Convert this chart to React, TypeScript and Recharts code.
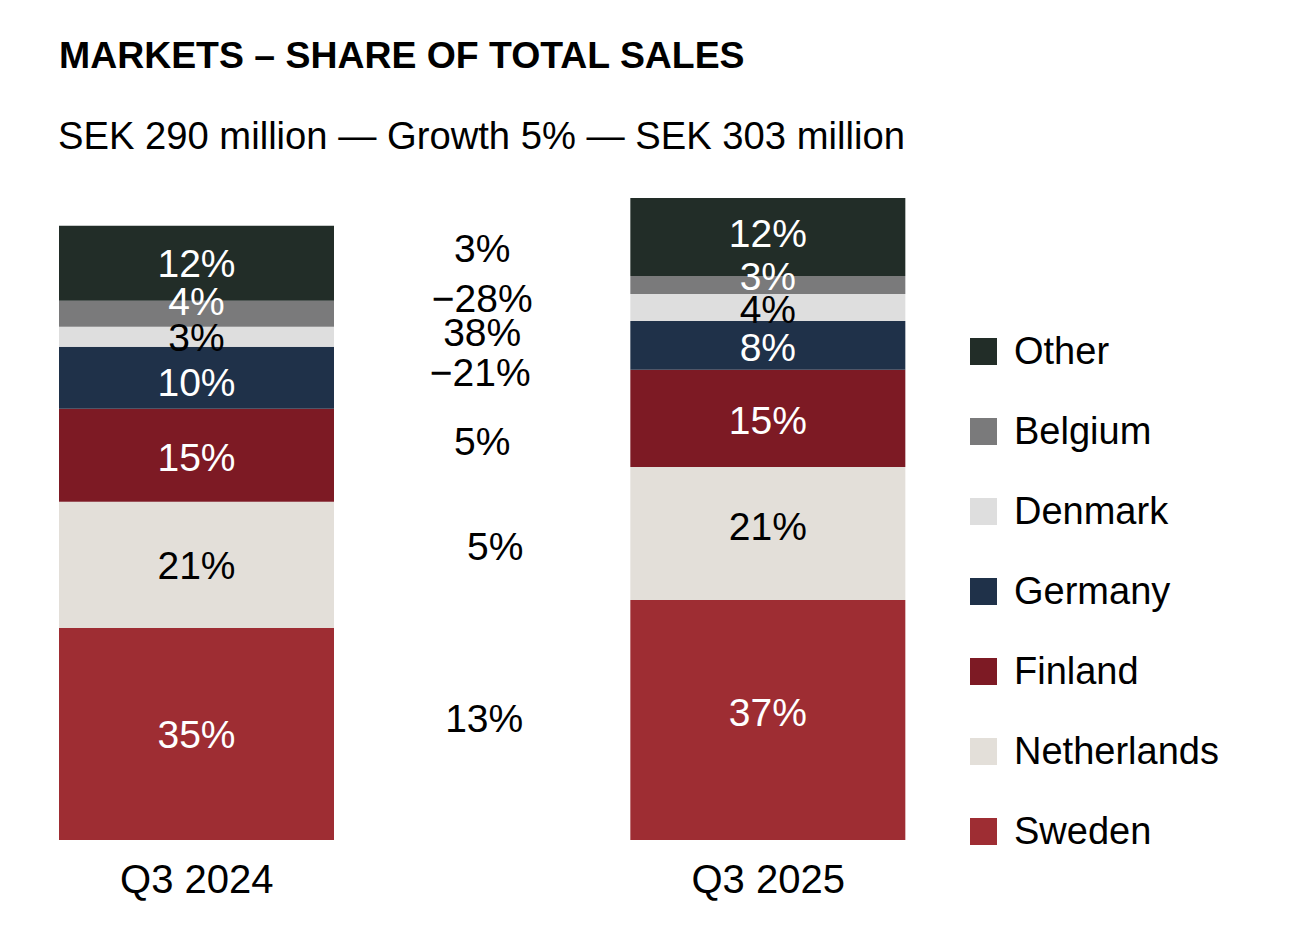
import { BarChart, Bar, XAxis, YAxis, Cell, Legend, LabelList } from "recharts";

// sales by market, SEK million (bottom of the stack first)
const markets = ["Sweden", "Netherlands", "Finland", "Germany", "Denmark", "Belgium", "Other"];
const periods = ["Q3 2024", "Q3 2025"];
const sales2024 = [100.1, 59.5, 43.9, 29.3, 9.4, 12.3, 35.4];
const sales2025 = [113.3, 62.8, 45.8, 23.1, 12.7, 8.5, 36.8];
const share2024 = ["35%", "21%", "15%", "10%", "3%", "4%", "12%"];
const share2025 = ["37%", "21%", "15%", "8%", "4%", "3%", "12%"];
const growth = ["13%", "5%", "5%", "\u221221%", "38%", "\u221228%", "3%"];
const totals = [290, 303];

const COLORS = ["#9e2d33", "#e3dfd9", "#7d1a24", "#1f3149", "#dedede", "#7a7a7b", "#222d28"];
const TEXT = ["#fff", "#000", "#fff", "#fff", "#000", "#fff", "#fff"];
const FONT = "'Liberation Sans', Arial, sans-serif";

// small label nudges so the tight segments don't collide
const NUDGE_2024 = [0, 0, 2, 4, 0, -13, 0];
const NUDGE_2025 = [-8, -7, 2, 2, 2, -9, -4];
const NUDGE_GROWTH = [-9, -3, 4, 10, 10, -1, -2];
const NUDGE_GROWTH_X = [2, 13, 0, -2, 0, 0, 0];

const row = (period: string, vals: number[]) => {
  const r: Record<string, string | number> = { period };
  markets.forEach((m, i) => (r[m] = vals[i]));
  return r;
};

// middle column only anchors the growth labels between the two bars
const mid = sales2024.map((v, i) => (v + sales2025[i]) / 2);
const data = [row(periods[0], sales2024), row("", mid), row(periods[1], sales2025)];

function makeLabel(mi: number) {
  return (props: any) => {
    const vb = props.viewBox || props;
    const { x, y, width, height } = vb;
    const idx = props.index;
    if (x == null || idx == null) return null;
    let text = share2024[mi];
    let fill = TEXT[mi];
    let dy = NUDGE_2024[mi];
    let dx = 0;
    if (idx === 1) {
      text = growth[mi];
      fill = "#000";
      dy = NUDGE_GROWTH[mi];
      dx = NUDGE_GROWTH_X[mi];
    } else if (idx === 2) {
      text = share2025[mi];
      dy = NUDGE_2025[mi];
    }
    return (
      <text
        key={`l-${mi}-${idx}`}
        x={x + width / 2 + dx}
        y={y + height / 2 + dy + 39 * 0.36}
        textAnchor="middle"
        fontSize={39}
        fontFamily={FONT}
        fill={fill}
      >
        {text}
      </text>
    );
  };
}

function LegendBox({ payload }: any) {
  // top of the stack first, same as the bars
  const items = [...(payload || [])].sort((a: any, b: any) => markets.indexOf(b.value) - markets.indexOf(a.value));
  return (
    <div style={{ fontFamily: FONT }}>
      {items.map((p: any) => (
        <div key={p.value} style={{ display: "flex", alignItems: "center", height: 80 }}>
          <span style={{ width: 27, height: 27, background: p.color, marginRight: 17, display: "inline-block" }} />
          <span style={{ fontSize: 38, color: "#000", lineHeight: "38px" }}>{p.value}</span>
        </div>
      ))}
    </div>
  );
}

export default function App() {
  return (
    <div style={{ position: "absolute", left: 0, top: 0, width: 1316, height: 942, background: "#fff", fontFamily: FONT }}>
      <div style={{ position: "absolute", left: 59, top: 37, fontSize: 37.4, lineHeight: "37px", fontWeight: 700, whiteSpace: "nowrap" }}>
        MARKETS – SHARE OF TOTAL SALES
      </div>
      <div style={{ position: "absolute", left: 58, top: 117, fontSize: 38.2, lineHeight: "38px", whiteSpace: "nowrap" }}>
        SEK {totals[0]} million — Growth 5% — SEK {totals[1]} million
      </div>
      <div style={{ position: "absolute", left: 0, top: 0 }}>
        <BarChart width={1316} height={942} data={data} margin={{ top: 198, right: 405, bottom: 42, left: 54 }}>
          <XAxis
            dataKey="period"
            axisLine={false}
            tickLine={false}
            tickSize={0}
            tickMargin={25}
            height={60}
            interval={0}
            tick={{ fontSize: 40, fill: "#000", fontFamily: FONT }}
          />
          <YAxis hide domain={[0, totals[1]]} />
          <Legend
            layout="vertical"
            align="center"
            verticalAlign="middle"
            wrapperStyle={{ left: 970, top: 311, width: 330 }}
            content={<LegendBox />}
          />
          {markets.map((m, mi) => (
            <Bar key={m} dataKey={m} name={m} stackId="s" barSize={275} fill={COLORS[mi]} isAnimationActive={false}>
              {data.map((_, i) => (
                <Cell key={i} fill={i === 1 ? "transparent" : COLORS[mi]} />
              ))}
              <LabelList dataKey={m} content={makeLabel(mi)} />
            </Bar>
          ))}
        </BarChart>
      </div>
    </div>
  );
}
